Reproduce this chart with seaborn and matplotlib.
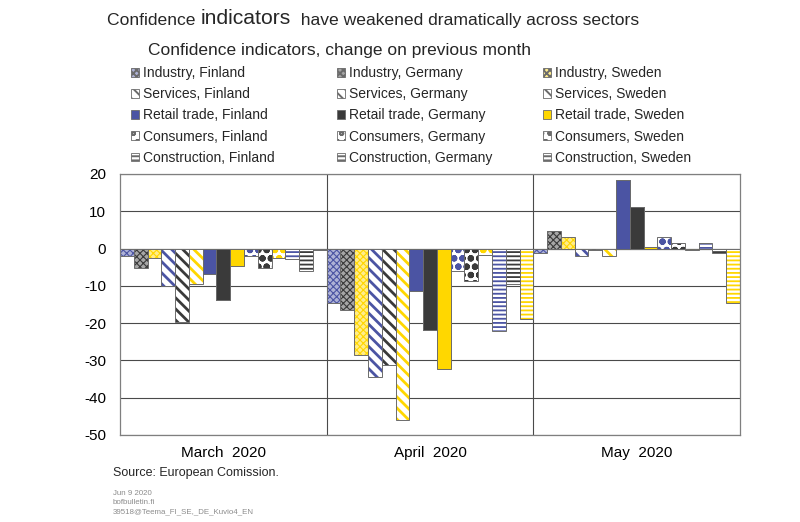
import matplotlib
matplotlib.use("Agg")
import numpy as np
import pandas as pd
import matplotlib.pyplot as plt
import matplotlib.patches as mpatches
import matplotlib.colors as mcolors
import seaborn as sns

# =============================================================================
# DATA
# =============================================================================

MONTHS = ["March  2020", "April  2020", "May  2020"]
SECTORS = ["Industry", "Services", "Retail trade", "Consumers", "Construction"]
COUNTRIES = ["Finland", "Germany", "Sweden"]

# change on previous month, order: sector by sector, Finland / Germany / Sweden
MARCH = [-2.1, -5.2, -2.6, -10.0, -19.7, -9.5, -6.9, -13.9, -4.8,
         -2.1, -5.2, -2.5, -2.7, -6.1, -0.3]
APRIL = [-14.7, -16.4, -28.6, -34.5, -31.3, -45.9, -11.5, -21.8, -32.3,
         -5.9, -8.8, -1.8, -22.1, -9.4, -18.8]
MAY = [-1.1, 4.6, 3.2, -2.1, -0.5, -2.1, 18.3, 11.2, 0.4,
       3.2, 1.6, -0.3, 1.4, -1.3, -14.5]

YTICKS = [-50, -40, -30, -20, -10, 0, 10, 20]

TITLE_PARTS = ["Confidence ", "indicators", "  have weakened dramatically across sectors"]
SUBTITLE = "Confidence indicators, change on previous month"
SOURCE = "Source: European Comission."
FOOTER = ["Jun 9 2020", "bofbulletin.fi", "39518@Teema_FI_SE,_DE_Kuvio4_EN"]

# styles
COUNTRY_COLORS = {"Finland": "#4B54A3", "Germany": "#3A3A3A", "Sweden": "#FFD700"}
SECTOR_HATCH = {"Industry": "xxxxx", "Services": "\\\\\\", "Retail trade": "",
                "Consumers": "oo", "Construction": "----"}
SECTOR_HATCH_LW = {"Industry": 0.8, "Services": 2.0, "Retail trade": 1.0,
                   "Consumers": 2.2, "Construction": 1.3}

SERIES = [f"{s}, {c}" for s in SECTORS for c in COUNTRIES]

# long-form table for seaborn
rows = []
for month, vals in zip(MONTHS, [MARCH, APRIL, MAY]):
    for name, v in zip(SERIES, vals):
        rows.append({"month": month, "series": name, "value": v})
df = pd.DataFrame(rows)


def tint(col, amount):
    rgb = np.array(mcolors.to_rgb(col))
    return tuple(rgb * amount + (1 - amount))


def series_style(name):
    sector, country = name.split(", ")
    col = COUNTRY_COLORS[country]
    hatch = SECTOR_HATCH[sector]
    if hatch == "":
        return dict(facecolor=col, edgecolor=col, hatch=None, hlw=1.0)
    face = tint(col, 0.45) if sector == "Industry" else "white"
    return dict(facecolor=face, edgecolor=col, hatch=hatch, hlw=SECTOR_HATCH_LW[sector])


# =============================================================================
# PLOT
# =============================================================================

sns.set_theme(style="white")
plt.rcParams["font.family"] = ["Liberation Sans", "DejaVu Sans"]
plt.rcParams["axes.unicode_minus"] = False
plt.rcParams["hatch.linewidth"] = 1.4

fig = plt.figure(figsize=(8, 5.22), dpi=100)
ax = fig.add_axes([0.15, 0.1667, 0.775, 0.5])

palette = {n: COUNTRY_COLORS[n.split(", ")[1]] for n in SERIES}
sns.barplot(data=df, x="month", y="value", hue="series", order=MONTHS,
            hue_order=SERIES, palette=palette, width=1.0, dodge=True,
            legend=False, ax=ax)

for cont, name in zip(ax.containers, SERIES):
    st = series_style(name)
    for p in cont:
        p.set_facecolor(st["facecolor"])
        p.set_edgecolor(st["edgecolor"])
        p.set_linewidth(0.0 if st["hatch"] else 0.5)
        if st["hatch"]:
            p.set_hatch(st["hatch"])
            if hasattr(p, "set_hatch_linewidth"):
                p.set_hatch_linewidth(st["hlw"])
        # thin grey outline like the original
        ax.add_patch(mpatches.Rectangle(p.get_xy(), p.get_width(), p.get_height(),
                                        fill=False, edgecolor="#6b6b6b", lw=0.7,
                                        zorder=p.get_zorder() + 0.1))

ax.set_xlim(-0.5, 2.5)
ax.set_ylim(-50, 20)
ax.set_yticks(YTICKS)
ax.set_xlabel("")
ax.set_ylabel("")
ax.set_axisbelow(True)
ax.yaxis.grid(True, color="#4a4a4a", lw=0.8)
ax.xaxis.grid(False)
ax.axvline(0.5, color="#4a4a4a", lw=0.8, zorder=0)
ax.axvline(1.5, color="#4a4a4a", lw=0.8, zorder=0)
ax.axhline(0, color="#4a4a4a", lw=0.8, zorder=0)
for sp in ax.spines.values():
    sp.set_color("#7f7f7f")
    sp.set_linewidth(0.9)
ax.tick_params(axis="both", length=0, labelsize=11, colors="black")
ax.tick_params(axis="y", pad=10)
ax.tick_params(axis="x", pad=8)

# legend: one column per country
leg_x = [131 / 800, 337 / 800, 543 / 800]
for country, lx in zip(COUNTRIES, leg_x):
    handles, labels = [], []
    for sector in SECTORS:
        name = f"{sector}, {country}"
        st = series_style(name)
        handles.append(mpatches.Patch(facecolor=st["facecolor"], edgecolor="#6b6b6b",
                                      hatch=st["hatch"], lw=0.6))
        labels.append(name)
    fig.legend(handles, labels, loc="upper left", bbox_to_anchor=(lx, 1 - 66 / 522),
               frameon=False, fontsize=10, handlelength=0.6, handleheight=0.6,
               handletextpad=0.25, labelspacing=0.52, borderaxespad=0, borderpad=0)

# titles
t1 = fig.text(107 / 800, 1 - 28 / 522, TITLE_PARTS[0], fontsize=12.6, va="bottom")
t2 = ax.annotate(TITLE_PARTS[1], xy=(1, 0), xycoords=t1, va="bottom", fontsize=15.2,
                 annotation_clip=False)
ax.annotate(TITLE_PARTS[2], xy=(1, 0), xycoords=t2, va="bottom", fontsize=12.6,
            annotation_clip=False)
fig.text(148 / 800, 1 - 58 / 522, SUBTITLE, fontsize=12.5, va="bottom")

# source and footer
fig.text(113 / 800, 1 - 476 / 522, SOURCE, fontsize=9, va="baseline")
for i, line in enumerate(FOOTER):
    fig.text(113 / 800, 1 - (495 + i * 9) / 522, line, fontsize=5.7, color="#8c8c8c",
             va="baseline")

fig.savefig("out.png", dpi=100)
plt.close(fig)
